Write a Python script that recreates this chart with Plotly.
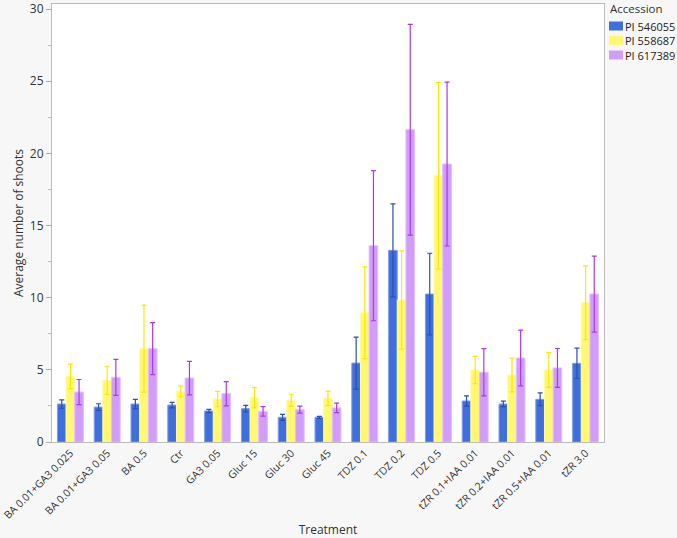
import plotly.graph_objects as go

treatments = ["BA 0.01+GA3 0.025", "BA 0.01+GA3 0.05", "BA 0.5", "Ctr", "GA3 0.05",
              "Gluc 15", "Gluc 30", "Gluc 45", "TDZ 0.1", "TDZ 0.2", "TDZ 0.5",
              "tZR 0.1+IAA 0.01", "tZR 0.2+IAA 0.01", "tZR 0.5+IAA 0.01", "tZR 3.0"]

accessions = ["PI 546055", "PI 558687", "PI 617389"]

pi546055 = [2.63, 2.42, 2.63, 2.56, 2.15, 2.31, 1.71, 1.71, 5.47, 13.28, 10.25, 2.84, 2.63, 2.96, 5.45]
pi546055_err = [0.29, 0.23, 0.32, 0.19, 0.11, 0.23, 0.21, 0.07, 1.80, 3.22, 2.83, 0.35, 0.20, 0.44, 1.05]

pi558687 = [4.55, 4.27, 6.47, 3.51, 2.98, 3.07, 2.89, 3.03, 8.96, 9.84, 18.45, 4.99, 4.64, 4.99, 9.65]
pi558687_err = [0.85, 0.98, 3.02, 0.38, 0.53, 0.70, 0.42, 0.50, 3.18, 3.40, 6.47, 0.95, 1.17, 1.20, 2.55]

pi617389 = [3.46, 4.48, 6.47, 4.43, 3.35, 2.12, 2.24, 2.36, 13.60, 21.64, 19.26, 4.83, 5.82, 5.13, 10.25]
pi617389_err = [0.87, 1.25, 1.80, 1.16, 0.84, 0.33, 0.24, 0.33, 5.20, 7.30, 5.68, 1.64, 1.93, 1.35, 2.63]

values = [pi546055, pi558687, pi617389]
errors = [pi546055_err, pi558687_err, pi617389_err]
fills = ["#3F6FDC", "#FFF870", "#D29CFA"]
edges = ["#7F9CE8", "#FFFAA8", "#E2BFFB"]
errcols = ["#2B4FB5", "#FFE800", "#A838F2"]

W, H = 677, 538
ML, MR, MT, MB = 52, 73, 4, 96
PW, PH = W - ML - MR, H - MT - MB


def px_x(x):
    return (x - ML) / PW


def px_y(y):
    return 1 - (y - MT) / PH


fig = go.Figure()
for name, v, e, f, ed, ec in zip(accessions, values, errors, fills, edges, errcols):
    fig.add_trace(go.Bar(
        name=name, x=treatments, y=v,
        marker=dict(color=f, line=dict(color=ed, width=1)),
        error_y=dict(type="data", array=e, visible=True, color=ec, thickness=1.2, width=2.5),
        showlegend=False,
    ))

# Legend: title + swatches + labels placed in the right margin
legend_left = 609
fig.add_annotation(text="Accession", xref="paper", yref="paper",
                   x=px_x(legend_left - 1), y=px_y(9),
                   xanchor="left", yanchor="middle", showarrow=False,
                   font=dict(size=11.5, color="#333333"))
for i, (name, f) in enumerate(zip(accessions, fills)):
    cy = 26 + i * 14.5
    fig.add_shape(type="rect", xref="paper", yref="paper",
                  x0=px_x(legend_left), x1=px_x(legend_left + 14),
                  y0=px_y(cy + 4.5), y1=px_y(cy - 4.5),
                  fillcolor=f, line=dict(width=0))
    fig.add_annotation(text=name, xref="paper", yref="paper",
                       x=px_x(legend_left + 14), y=px_y(cy),
                       xanchor="left", yanchor="middle", showarrow=False,
                       font=dict(size=11, color="#222222"))

font_family = "Open Sans, Noto Sans, sans-serif"
fig.update_layout(
    width=W, height=H,
    barmode="group", bargap=0.295, bargroupgap=0,
    paper_bgcolor="#F7F7F7", plot_bgcolor="#FFFFFF",
    margin=dict(l=ML, r=MR, t=MT, b=MB, autoexpand=False),
    font=dict(family=font_family, size=11, color="#333333"),
    showlegend=False,
    xaxis=dict(
        title=dict(text="Treatment", font=dict(size=12, color="#333333"), standoff=5),
        tickangle=-45, showgrid=False, showline=True, linecolor="#BBBBBB", mirror=True,
        ticks="", tickfont=dict(size=10.5, color="#333333"), automargin=False,
    ),
    yaxis=dict(
        title=dict(text="Average number of shoots", font=dict(size=12, color="#333333"), standoff=3),
        range=[0, 30.35], tickvals=[0, 5, 10, 15, 20, 25, 30],
        showgrid=False, zeroline=False, showline=True, linecolor="#BBBBBB", mirror=True,
        ticks="outside", ticklen=5, tickcolor="#AAAAAA", automargin=False,
        minor=dict(tickvals=[2.5, 7.5, 12.5, 17.5, 22.5, 27.5], ticks="outside", ticklen=3, tickcolor="#BBBBBB"),
        tickfont=dict(size=12, color="#333333"),
    ),
)

fig.write_html("out.html")
